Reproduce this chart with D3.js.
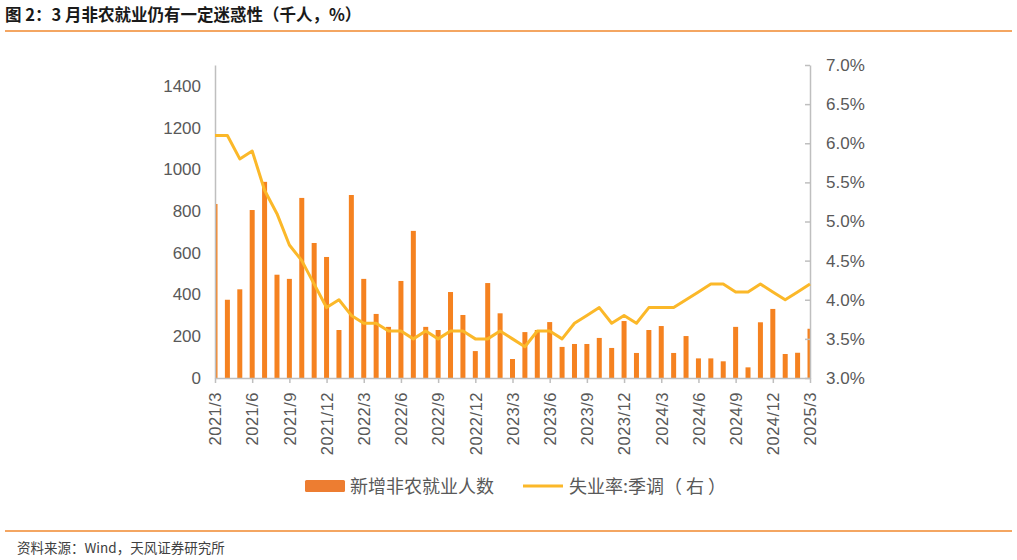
<!DOCTYPE html>
<html>
<head>
<meta charset="utf-8">
<script src="https://cdn.jsdelivr.net/npm/d3@7/dist/d3.min.js"></script>
<style>
  body { margin: 0; background: #fff; }
  text { font-family: "Liberation Sans", Arial, "Noto Sans CJK SC", sans-serif; }
  .cjk { font-family: "Noto Sans CJK SC", "Liberation Sans", sans-serif; }
</style>
</head>
<body>
<div id="chart"></div>
<script>
// data
const months = []
for (let y = 2021; y <= 2025; y++) {
    for (let m = 1; m <= 12; m++) {
        if ((y === 2021 && m < 3) || (y === 2025 && m > 3)) continue
        months.push(y + "/" + m)
    }
}
// 新增非农就业人数 (千人)
const payrolls = [
    834, 375, 425, 805, 940, 495, 475, 863, 647, 580, 230, 877,
    475, 307, 245, 465, 705, 245, 230, 412, 302, 129, 455, 310,
    91, 220, 230, 268, 149, 163, 163, 192, 144, 273, 120, 230,
    249, 120, 201, 94, 94, 80, 245, 51, 267, 331, 115, 121, 236
]
// 失业率:季调 (%)
const unemp = [
    6.1, 6.1, 5.8, 5.9, 5.4, 5.1, 4.7, 4.5, 4.2, 3.9, 4.0, 3.8,
    3.7, 3.7, 3.6, 3.6, 3.5, 3.6, 3.5, 3.6, 3.6, 3.5, 3.5, 3.6,
    3.5, 3.4, 3.6, 3.6, 3.5, 3.7, 3.8, 3.9, 3.7, 3.8, 3.7, 3.9,
    3.9, 3.9, 4.0, 4.1, 4.2, 4.2, 4.1, 4.1, 4.2, 4.1, 4.0, 4.1, 4.2
]
const leftTicks = [0, 200, 400, 600, 800, 1000, 1200, 1400]
const rightTicks = [3.0, 3.5, 4.0, 4.5, 5.0, 5.5, 6.0, 6.5, 7.0]

const width = 1017
const height = 560
const plot = { left: 215, right: 810, top: 65, bottom: 378 }

const svg = d3.select("#chart").append("svg")
    .attr("width", width).attr("height", height)

// title + rules
svg.append("text").attr("class", "cjk")
    .attr("x", 5).attr("y", 21)
    .style("font-size", "16.5px").style("font-weight", "bold").attr("fill", "#1a1a1a")
    .text("图 2：3 月非农就业仍有一定迷惑性（千人，%）")
svg.append("line").attr("x1", 5).attr("x2", 1012).attr("y1", 31).attr("y2", 31)
    .attr("stroke", "#f0892e").attr("stroke-width", 1.5)
svg.append("line").attr("x1", 5).attr("x2", 1012).attr("y1", 531).attr("y2", 531)
    .attr("stroke", "#f0892e").attr("stroke-width", 1.5)
svg.append("text").attr("class", "cjk")
    .attr("x", 17).attr("y", 553)
    .style("font-size", "13.5px").attr("fill", "#404040")
    .text("资料来源：Wind，天风证券研究所")

// scales
const x = d3.scalePoint().domain(months).range([plot.left, plot.right])
const y = d3.scaleLinear().domain([0, 1500]).range([plot.bottom, plot.top])
const y2 = d3.scaleLinear().domain([3, 7]).range([plot.bottom, plot.top])

// clip
svg.append("defs").append("clipPath").attr("id", "clip")
    .append("rect").attr("x", plot.left).attr("y", 0)
    .attr("width", plot.right - plot.left).attr("height", plot.bottom)

const axisColor = "#bfbfbf"
const labelColor = "#595959"

// bars
const barW = 5
svg.append("g").attr("clip-path", "url(#clip)")
    .selectAll("rect").data(payrolls).enter().append("rect")
    .attr("x", (d, i) => x(months[i]) - barW / 2)
    .attr("y", d => y(d))
    .attr("width", barW)
    .attr("height", d => plot.bottom - y(d))
    .attr("fill", "#f58220")

// left axis
const yAxis = d3.axisLeft(y).tickValues(leftTicks).tickSize(0).tickPadding(14).tickFormat(d3.format("d"))
const yGroup = svg.append("g").attr("transform", `translate(${plot.left},0)`).call(yAxis)
yGroup.select(".domain").attr("stroke", axisColor).attr("stroke-width", 1.5)
yGroup.selectAll("text").attr("fill", labelColor).style("font-size", "17px")

// right axis
const yAxis2 = d3.axisRight(y2).tickValues(rightTicks).tickSize(0).tickPadding(16)
    .tickFormat(d => d.toFixed(1) + "%")
const yGroup2 = svg.append("g").attr("transform", `translate(${plot.right},0)`).call(yAxis2)
yGroup2.select(".domain").attr("stroke", axisColor).attr("stroke-width", 1.5)
yGroup2.selectAll("text").attr("fill", labelColor).style("font-size", "17px")
yGroup2.selectAll(".tick").append("line")
    .attr("x1", -5).attr("x2", 0).attr("stroke", axisColor).attr("stroke-width", 1.5)

// x axis
const xTickVals = months.filter((m, i) => i % 3 === 0)
const xAxis = d3.axisBottom(x).tickValues(xTickVals).tickSize(5).tickSizeOuter(0)
const xGroup = svg.append("g").attr("transform", `translate(0,${plot.bottom})`).call(xAxis)
xGroup.select(".domain").attr("stroke", axisColor).attr("stroke-width", 1.5)
xGroup.selectAll(".tick line").attr("stroke", axisColor).attr("stroke-width", 1.5)
xGroup.selectAll("text")
    .attr("fill", labelColor).style("font-size", "16.5px")
    .style("letter-spacing", "0.5px")
    .attr("text-anchor", "end")
    .attr("transform", "rotate(-90)")
    .attr("x", -14).attr("y", 0).attr("dy", "0.35em")

// line
svg.append("path").datum(unemp)
    .attr("fill", "none")
    .attr("stroke", "#fbb829")
    .attr("stroke-width", 3)
    .attr("stroke-linejoin", "round")
    .attr("d", d3.line().x((d, i) => x(months[i])).y(d => y2(d)))

// legend
const legend = svg.append("g")
legend.append("rect").attr("x", 305).attr("y", 480).attr("width", 40).attr("height", 12)
    .attr("rx", 1.5).attr("fill", "#ed7d31")
legend.append("text").attr("class", "cjk").attr("x", 350).attr("y", 493)
    .style("font-size", "18px").attr("fill", labelColor).text("新增非农就业人数")
legend.append("line").attr("x1", 523).attr("x2", 563).attr("y1", 486).attr("y2", 486)
    .attr("stroke", "#fbb829").attr("stroke-width", 3)
legend.append("text").attr("class", "cjk").attr("x", 569).attr("y", 493)
    .style("font-size", "18px").attr("fill", labelColor).text("失业率:季调（ 右 ）")
</script>
</body>
</html>
